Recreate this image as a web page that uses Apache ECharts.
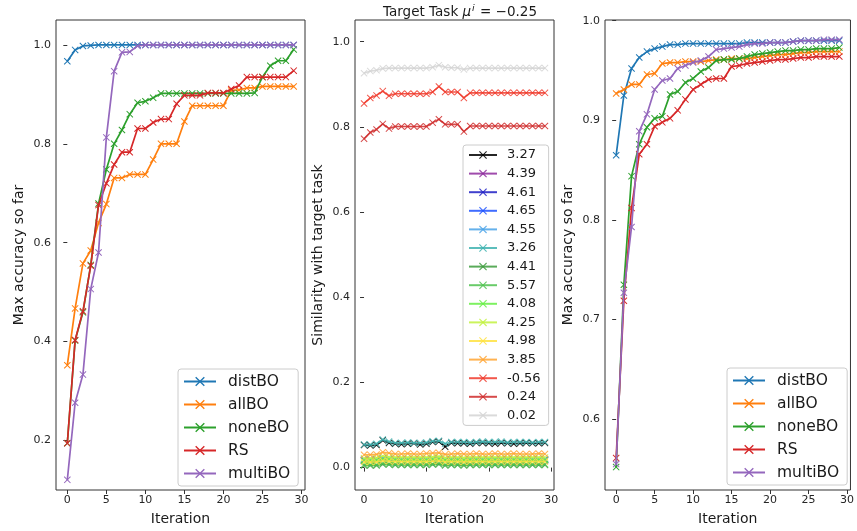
<!DOCTYPE html>
<html><head><meta charset="utf-8">
<script src="https://cdn.jsdelivr.net/npm/echarts@6/dist/echarts.min.js"></script>
<style>html,body{margin:0;padding:0;background:#fff}#c{width:857px;height:531px}</style>
</head><body><div id="c"></div>
<script>
// ---------- data ----------
const iters = [0,1,2,3,4,5,6,7,8,9,10,11,12,13,14,15,16,17,18,19,20,21,22,23,24,25,26,27,28,29];
const methodNames = ['distBO','allBO','noneBO','RS','multiBO'];
const methodColors = ['#1f77b4','#ff7f0e','#2ca02c','#d62728','#9467bd'];

// left panel
const distBO_L  = [0.967,0.990,0.998,0.999,1,1,1,1,1,1,1,1,1,1,1,1,1,1,1,1,1,1,1,1,1,1,1,1,1,1];
const allBO_L   = [0.352,0.467,0.558,0.584,0.640,0.678,0.731,0.731,0.738,0.738,0.738,0.768,0.800,0.800,0.800,0.845,0.877,0.877,0.877,0.877,0.877,0.908,0.909,0.913,0.913,0.916,0.916,0.916,0.916,0.916];
const noneBO_L  = [0.194,0.402,0.459,0.555,0.679,0.748,0.800,0.828,0.860,0.883,0.886,0.893,0.902,0.902,0.902,0.902,0.902,0.902,0.902,0.902,0.902,0.902,0.902,0.902,0.903,0.935,0.958,0.968,0.968,0.991];
const RS_L      = [0.194,0.403,0.461,0.553,0.676,0.720,0.758,0.783,0.783,0.831,0.831,0.843,0.850,0.850,0.881,0.898,0.898,0.898,0.903,0.903,0.903,0.911,0.918,0.935,0.935,0.935,0.935,0.935,0.935,0.948];
const multiBO_L = [0.120,0.276,0.333,0.506,0.580,0.813,0.947,0.985,0.986,0.998,1,1,1,1,1,1,1,1,1,1,1,1,1,1,1,1,1,1,1,1];

// right panel
const distBO_R  = [0.865,0.925,0.952,0.963,0.969,0.972,0.974,0.976,0.976,0.977,0.977,0.977,0.977,0.977,0.977,0.977,0.977,0.978,0.978,0.978,0.978,0.978,0.978,0.979,0.980,0.980,0.980,0.980,0.980,0.980];
const allBO_R   = [0.927,0.931,0.936,0.936,0.946,0.947,0.957,0.958,0.958,0.959,0.959,0.959,0.960,0.961,0.961,0.962,0.962,0.962,0.963,0.964,0.965,0.966,0.966,0.967,0.968,0.968,0.969,0.969,0.969,0.969];
const noneBO_R  = [0.552,0.735,0.844,0.876,0.893,0.902,0.904,0.926,0.929,0.938,0.942,0.949,0.953,0.960,0.961,0.961,0.962,0.964,0.966,0.967,0.968,0.969,0.970,0.970,0.971,0.971,0.972,0.972,0.972,0.973];
const RS_R      = [0.561,0.719,0.812,0.866,0.876,0.894,0.898,0.902,0.910,0.921,0.931,0.936,0.941,0.942,0.942,0.954,0.955,0.957,0.958,0.959,0.960,0.961,0.961,0.962,0.963,0.963,0.964,0.964,0.964,0.964];
const multiBO_R = [0.555,0.727,0.793,0.889,0.906,0.931,0.940,0.942,0.952,0.955,0.958,0.960,0.964,0.971,0.972,0.973,0.974,0.976,0.977,0.977,0.978,0.978,0.978,0.979,0.980,0.980,0.980,0.981,0.981,0.981];

// middle panel (similarity with target task)
const taskNames  = ['3.27','4.39','4.61','4.65','4.55','3.26','4.41','5.57','4.08','4.25','4.98','3.85','-0.56','0.24','0.02'];
const taskColors = ['#000000','#8e2c9e','#1f1fc4','#1f52ff','#4aa3e8','#3fb3b0','#3d9c3d','#4fc24f','#66ee44','#c2f23f','#ffe23f','#ffa533','#f0392b','#cf2a2a','#d3d3d3'];
const s327 = [0.053,0.052,0.053,0.064,0.058,0.056,0.055,0.056,0.057,0.054,0.056,0.060,0.061,0.049,0.058,0.057,0.057,0.056,0.058,0.058,0.057,0.056,0.058,0.057,0.056,0.057,0.058,0.057,0.057,0.058];
const s439 = [0.016,0.016,0.016,0.019,0.018,0.017,0.017,0.017,0.017,0.017,0.017,0.018,0.019,0.016,0.017,0.017,0.016,0.017,0.017,0.017,0.017,0.017,0.017,0.017,0.017,0.017,0.017,0.017,0.017,0.017];
const s461 = [0.017,0.017,0.017,0.020,0.019,0.018,0.018,0.018,0.018,0.018,0.018,0.019,0.020,0.017,0.018,0.018,0.017,0.018,0.018,0.018,0.018,0.018,0.018,0.018,0.018,0.018,0.018,0.018,0.018,0.018];
const s465 = [0.018,0.018,0.018,0.021,0.020,0.019,0.019,0.019,0.019,0.019,0.019,0.020,0.021,0.018,0.019,0.019,0.018,0.019,0.019,0.019,0.019,0.019,0.019,0.019,0.019,0.019,0.019,0.019,0.019,0.019];
const s455 = [0.019,0.019,0.019,0.022,0.021,0.020,0.020,0.020,0.020,0.020,0.020,0.021,0.022,0.019,0.020,0.020,0.019,0.020,0.020,0.020,0.020,0.020,0.020,0.020,0.020,0.020,0.020,0.020,0.020,0.020];
const s326 = [0.054,0.054,0.056,0.066,0.061,0.058,0.058,0.059,0.058,0.058,0.059,0.062,0.063,0.056,0.060,0.060,0.060,0.059,0.060,0.061,0.060,0.060,0.061,0.059,0.060,0.060,0.060,0.059,0.060,0.060];
const s441 = [0.005,0.005,0.005,0.008,0.007,0.006,0.006,0.006,0.006,0.006,0.006,0.007,0.008,0.005,0.006,0.006,0.005,0.006,0.006,0.006,0.006,0.006,0.006,0.006,0.006,0.006,0.006,0.006,0.006,0.006];
const s557 = [0.007,0.007,0.007,0.010,0.009,0.008,0.008,0.008,0.008,0.008,0.008,0.009,0.010,0.007,0.008,0.008,0.007,0.008,0.008,0.008,0.008,0.008,0.008,0.008,0.008,0.008,0.008,0.008,0.008,0.008];
const s408 = [0.016,0.016,0.017,0.020,0.019,0.018,0.018,0.018,0.018,0.018,0.018,0.019,0.020,0.017,0.018,0.018,0.017,0.018,0.018,0.018,0.018,0.018,0.018,0.018,0.018,0.018,0.018,0.018,0.018,0.018];
const s425 = [0.022,0.022,0.023,0.027,0.025,0.024,0.024,0.024,0.024,0.024,0.024,0.025,0.026,0.023,0.024,0.024,0.023,0.024,0.024,0.024,0.024,0.024,0.024,0.024,0.024,0.024,0.024,0.024,0.024,0.024];
const s498 = [0.013,0.013,0.013,0.016,0.015,0.014,0.014,0.014,0.014,0.014,0.014,0.015,0.016,0.013,0.014,0.014,0.013,0.014,0.014,0.014,0.014,0.014,0.014,0.014,0.014,0.014,0.014,0.014,0.014,0.014];
const s385 = [0.030,0.030,0.031,0.036,0.034,0.032,0.032,0.033,0.032,0.032,0.033,0.034,0.035,0.031,0.032,0.033,0.032,0.032,0.033,0.032,0.032,0.033,0.032,0.032,0.033,0.032,0.032,0.032,0.033,0.032];
const sm056 = [0.855,0.868,0.874,0.884,0.873,0.878,0.878,0.878,0.878,0.878,0.878,0.882,0.895,0.882,0.882,0.882,0.868,0.880,0.880,0.880,0.880,0.880,0.880,0.880,0.880,0.880,0.880,0.880,0.880,0.880];
const s024 = [0.772,0.787,0.794,0.807,0.796,0.801,0.801,0.801,0.801,0.801,0.801,0.810,0.818,0.806,0.806,0.806,0.789,0.802,0.802,0.802,0.802,0.802,0.802,0.802,0.802,0.802,0.802,0.802,0.802,0.802];
const s002 = [0.926,0.931,0.933,0.937,0.938,0.938,0.938,0.938,0.938,0.938,0.938,0.940,0.945,0.940,0.939,0.939,0.935,0.938,0.938,0.938,0.938,0.938,0.938,0.938,0.938,0.938,0.938,0.938,0.938,0.938];

const leftTicks  = [0.2,0.4,0.6,0.8,1.0];
const midTicks   = [0.0,0.2,0.4,0.6,0.8,1.0];
const rightTicks = [0.6,0.7,0.8,0.9,1.0];
const xTicksSide = [0,5,10,15,20,25,30];
const xTicksMid  = [0,10,20,30];

// ---------- chart ----------
const FONT = 'DejaVu Sans';
const XSYM = 'path://M1,0L5,4L9,0L10,1L6,5L10,9L9,10L5,6L1,10L0,9L4,5L0,1Z';
const leftData  = [distBO_L, allBO_L, noneBO_L, RS_L, multiBO_L];
const rightData = [distBO_R, allBO_R, noneBO_R, RS_R, multiBO_R];
const midData   = [s327,s439,s461,s465,s455,s326,s441,s557,s408,s425,s498,s385,sm056,s024,s002];

const toPairs = arr => arr.map((v,i)=>[iters[i], v]);

function xAxis(gi, ticks){
  return {type:'value', gridIndex:gi, min:-1.45, max:30.45,
    name:'Iteration', nameLocation:'middle', nameGap:22,
    nameTextStyle:{fontFamily:FONT, fontSize:14, color:'#1a1a1a'},
    axisLine:{show:false}, splitLine:{show:false},
    axisTick:{show:true, inside:false, length:4, customValues:ticks, lineStyle:{color:'#333'}},
    axisLabel:{customValues:ticks, fontFamily:FONT, fontSize:11, color:'#262626', margin:5}};
}
function yAxis(gi, min, max, ticks, name, gap){
  return {type:'value', gridIndex:gi, min:min, max:max,
    name:name, nameLocation:'middle', nameGap:gap, nameRotate:90,
    nameTextStyle:{fontFamily:FONT, fontSize:14, color:'#1a1a1a'},
    axisLine:{show:false}, splitLine:{show:false},
    axisTick:{show:true, inside:false, length:4, customValues:ticks, lineStyle:{color:'#333'}},
    axisLabel:{customValues:ticks, fontFamily:FONT, fontSize:11, color:'#262626', margin:5,
      formatter:v=>v.toFixed(1)}};
}

const series = [];
methodNames.forEach((n,k)=>{
  series.push({name:n, type:'line', xAxisIndex:0, yAxisIndex:0, data:toPairs(leftData[k]),
    color:methodColors[k], symbol:XSYM, symbolSize:7, showSymbol:true,
    lineStyle:{width:1.7}, itemStyle:{color:methodColors[k]}, animation:false, z:2+k});
});
taskNames.forEach((n,k)=>{
  series.push({name:n, type:'line', xAxisIndex:1, yAxisIndex:1, data:toPairs(midData[k]),
    color:taskColors[k], symbol:XSYM, symbolSize:7, showSymbol:true,
    lineStyle:{width:1.6, opacity:0.85}, itemStyle:{color:taskColors[k], opacity:0.85}, animation:false, z:2+k});
});
methodNames.forEach((n,k)=>{
  series.push({name:n, type:'line', xAxisIndex:2, yAxisIndex:2, data:toPairs(rightData[k]),
    color:methodColors[k], symbol:XSYM, symbolSize:7, showSymbol:true,
    lineStyle:{width:1.7}, itemStyle:{color:methodColors[k]}, animation:false, z:2+k});
});

const legendBase = {orient:'vertical', backgroundColor:'rgba(255,255,255,0.85)', borderColor:'#cccccc',
  borderWidth:1, borderRadius:3, selectedMode:false, z:20};

const option = {
  animation:false,
  backgroundColor:'#ffffff',
  title:{text:'Target Task {it|μ}{sup|i}{n| = −0.25}', left:455, top:-1, textAlign:'center',
    textStyle:{fontFamily:FONT, fontSize:13.5, fontWeight:'normal', color:'#1a1a1a',
      rich:{it:{fontFamily:FONT, fontStyle:'italic', fontSize:13.5, color:'#1a1a1a'},
            sup:{fontFamily:FONT, fontStyle:'italic', fontSize:9.5, verticalAlign:'top', padding:[0,1,6,1], color:'#1a1a1a'},
            n:{fontFamily:FONT, fontSize:13.5, color:'#1a1a1a'}}}},
  grid:[
    {left:56, top:20, width:249, height:476, show:true, borderColor:'#333', borderWidth:1, backgroundColor:'transparent'},
    {left:355, top:20, width:199, height:476, show:true, borderColor:'#333', borderWidth:1, backgroundColor:'transparent'},
    {left:605, top:20, width:250, height:476, show:true, borderColor:'#333', borderWidth:1, backgroundColor:'transparent'}
  ],
  xAxis:[xAxis(0, xTicksSide), xAxis(1, xTicksMid), xAxis(2, xTicksSide)],
  yAxis:[
    yAxis(0, 0.0995, 1.0505, leftTicks, 'Max accuracy so far', 30),
    yAxis(1, -0.0526, 1.051, midTicks, 'Similarity with target task', 30),
    yAxis(2, 0.529, 1.0007, rightTicks, 'Max accuracy so far', 30)
  ],
  legend:[
    Object.assign({}, legendBase, {data:methodNames, left:178, top:369, padding:[4,8,4,5],
      itemWidth:32, itemHeight:12, itemGap:6,
      textStyle:{fontFamily:FONT, fontSize:15.5, color:'#1a1a1a', lineHeight:17, padding:[0,0,0,7]}}),
    Object.assign({}, legendBase, {data:taskNames, left:463, top:145, padding:[3,8,3,5],
      itemWidth:28, itemHeight:10, itemGap:4.6,
      textStyle:{fontFamily:FONT, fontSize:13, color:'#1a1a1a', lineHeight:14, padding:[0,0,0,5]}}),
    Object.assign({}, legendBase, {data:methodNames, left:727, top:368, padding:[4,8,4,5],
      itemWidth:32, itemHeight:12, itemGap:6,
      textStyle:{fontFamily:FONT, fontSize:15.5, color:'#1a1a1a', lineHeight:17, padding:[0,0,0,7]}})
  ],
  series:series
};
const chart = echarts.init(document.getElementById('c'), null, {renderer:'canvas'});
chart.setOption(option);
</script></body></html>
